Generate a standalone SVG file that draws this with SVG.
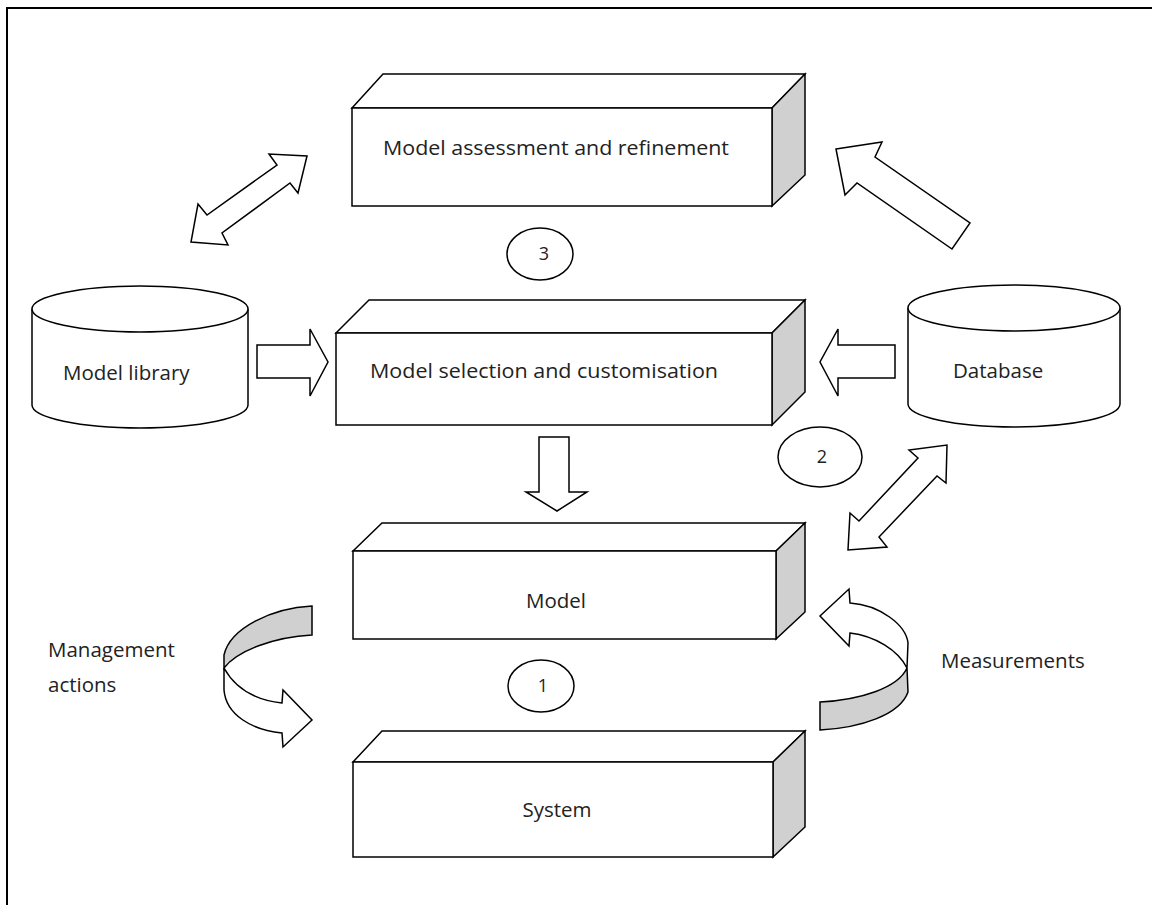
<svg xmlns="http://www.w3.org/2000/svg" width="1152" height="905" viewBox="0 0 1152 905">
<style>
.s{stroke:#000;stroke-width:1.5;stroke-linejoin:miter;fill:#fff}
.g{fill:#d0d0d0}
.t{font-family:"Open Sans","DejaVu Sans",sans-serif;font-size:20.5px;fill:#222}
.n{font-size:18px}
.m{text-anchor:middle}
</style>
<rect width="1152" height="905" fill="#fff"/>
<path d="M7,905 L7,8 L1152,8" fill="none" stroke="#000" stroke-width="2"/>
<g id="connectors">
<polygon class="s" points="307,156 298,193 290,183 222,233 228,245 191,242 198,204 207,215 277,165 269,154"/>
<polygon class="s" points="836,149 882,142 875,157 970,223 952,249 857,183 845,195"/>
<polygon class="s" points="257,345 310,345 310,329 328,362 310,396 310,378 257,378"/>
<polygon class="s" points="895,345 838,345 838,329 820,362 838,396 838,378 895,378"/>
<polygon class="s" points="539,437 569,437 569,492 587,492 557,511 526,492 539,492"/>
<polygon class="s" points="947,445 946,483 937,476 879,537 887,547 848,550 850,513 859,521 918,458 909,450"/>
<g id="mgmt-arrow">
<path class="s g" d="M312,606 C272,608 230,628 224,655 L224,668 C238,650 275,637 312,635 Z"/>
<path class="s" d="M224,668 L224,690 C226,715 252,730 282,733 L283,747 L312,720 L283,690 L282,703 C255,700 235,688 224,668 Z"/>
</g>
<g id="meas-arrow">
<path class="s g" d="M820,702 L820,730 C860,728 900,715 908,692 L907,668 C898,688 860,700 820,702 Z"/>
<path class="s" d="M907,668 L908,643 C906,625 880,605 850,603 L849,589 L820,616 L849,646 L850,633 C875,636 898,650 907,668 Z"/>
</g>
</g>
<g id="box-assessment">
<polygon class="s" points="352,108 383,74 805,74 772,108"/>
<polygon class="s g" points="772,108 805,74 805,175 772,206"/>
<rect class="s" x="352" y="108" width="420" height="98"/>
<text class="t" x="383" y="155" textLength="346" lengthAdjust="spacingAndGlyphs">Model assessment and refinement</text>
</g>
<g id="box-selection">
<polygon class="s" points="336,333 369,300 805,300 772,333"/>
<polygon class="s g" points="772,333 805,300 805,392 772,425"/>
<rect class="s" x="336" y="333" width="436" height="92"/>
<text class="t" x="370" y="378" textLength="348" lengthAdjust="spacingAndGlyphs">Model selection and customisation</text>
</g>
<g id="box-model">
<polygon class="s" points="353,551 382,523 805,523 776,551"/>
<polygon class="s g" points="776,551 805,523 805,612 776,639"/>
<rect class="s" x="353" y="551" width="423" height="88"/>
<text class="t m" x="556" y="608">Model</text>
</g>
<g id="box-system">
<polygon class="s" points="353,762 382,731 805,731 773,762"/>
<polygon class="s g" points="773,762 805,731 805,827 773,857"/>
<rect class="s" x="353" y="762" width="420" height="95"/>
<text class="t m" x="557" y="817">System</text>
</g>
<g id="cyl-library">
<path class="s" d="M32,309 L32,405 A108,23 0 0 0 248,405 L248,309"/>
<ellipse class="s" cx="140" cy="309" rx="108" ry="23"/>
<text class="t" x="63" y="380">Model library</text>
</g>
<g id="cyl-database">
<path class="s" d="M908,308 L908,404 A106,23 0 0 0 1120,404 L1120,308"/>
<ellipse class="s" cx="1014" cy="308" rx="106" ry="23"/>
<text class="t" x="953" y="378">Database</text>
</g>
<g id="circle-3">
<ellipse class="s" cx="540" cy="254" rx="33" ry="26"/>
<text class="t n m" x="544" y="260">3</text>
</g>
<g id="circle-2">
<ellipse class="s" cx="820" cy="457" rx="42" ry="30"/>
<text class="t n m" x="822" y="463">2</text>
</g>
<g id="circle-1">
<ellipse class="s" cx="541" cy="686" rx="33" ry="26"/>
<text class="t n m" x="543" y="692">1</text>
</g>
<g id="label-mgmt">
<text class="t" x="48" y="657">Management</text>
<text class="t" x="48" y="692">actions</text>
</g>
<g id="label-meas">
<text class="t" x="941" y="668">Measurements</text>
</g>
</svg>
